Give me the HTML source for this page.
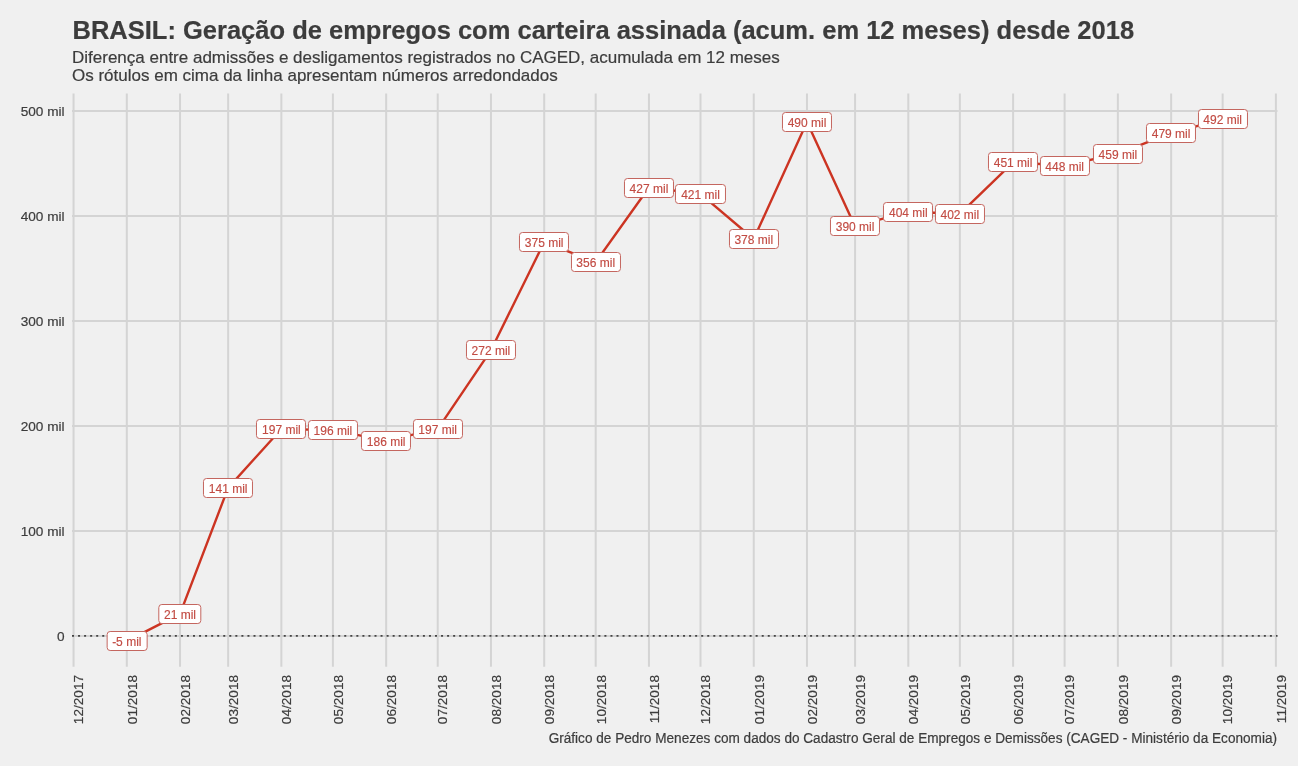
<!DOCTYPE html>
<html><head><meta charset="utf-8"><style>
html,body{margin:0;padding:0;}
body{width:1298px;height:766px;background:#f0f0f0;position:relative;overflow:hidden;}
#w{position:absolute;left:0;top:0;width:1298px;height:766px;will-change:transform;-webkit-text-stroke:0.2px #3c3c3c;font-family:"Liberation Sans",sans-serif;color:#3c3c3c;}
.t{position:absolute;left:72.5px;top:15.2px;font-size:25.5px;font-weight:bold;white-space:nowrap;line-height:30px;}
.s{position:absolute;left:72px;top:48.8px;font-size:17px;white-space:nowrap;line-height:18.5px;}
.c{position:absolute;right:21px;top:730.5px;font-size:13.6px;white-space:nowrap;line-height:16px;transform:scaleY(1.08);transform-origin:0 12.7px;}
svg{position:absolute;left:0;top:0;}
.ax{font-family:"Liberation Sans",sans-serif;font-size:13.6px;fill:#3c3c3c;stroke:#3c3c3c;stroke-width:0.2px;}
.lb{position:absolute;transform:translate(-50%,-50%);background:#fff;border:1px solid #c4665f;border-radius:3.5px;color:#c24b43;-webkit-text-stroke:0.15px #c24b43;font-size:12px;line-height:15px;padding:3px 4.7px 0 4.7px;white-space:nowrap;}
</style></head><body><div id="w">
<div class="t">BRASIL: Geração de empregos com carteira assinada (acum. em 12 meses) desde 2018</div>
<div class="s">Diferença entre admissões e desligamentos registrados no CAGED, acumulada em 12 meses<br>Os rótulos em cima da linha apresentam números arredondados</div>
<svg width="1298" height="766" viewBox="0 0 1298 766">
<line x1="72" x2="1277.5" y1="635.90" y2="635.90" stroke="#d4d4d4" stroke-width="2"/>
<line x1="72" x2="1277.5" y1="530.90" y2="530.90" stroke="#d4d4d4" stroke-width="2"/>
<line x1="72" x2="1277.5" y1="425.90" y2="425.90" stroke="#d4d4d4" stroke-width="2"/>
<line x1="72" x2="1277.5" y1="320.90" y2="320.90" stroke="#d4d4d4" stroke-width="2"/>
<line x1="72" x2="1277.5" y1="215.90" y2="215.90" stroke="#d4d4d4" stroke-width="2"/>
<line x1="72" x2="1277.5" y1="110.90" y2="110.90" stroke="#d4d4d4" stroke-width="2"/>
<line x1="73.55" x2="73.55" y1="93.5" y2="666.7" stroke="#d4d4d4" stroke-width="2"/>
<line x1="126.80" x2="126.80" y1="93.5" y2="666.7" stroke="#d4d4d4" stroke-width="2"/>
<line x1="180.04" x2="180.04" y1="93.5" y2="666.7" stroke="#d4d4d4" stroke-width="2"/>
<line x1="228.14" x2="228.14" y1="93.5" y2="666.7" stroke="#d4d4d4" stroke-width="2"/>
<line x1="281.38" x2="281.38" y1="93.5" y2="666.7" stroke="#d4d4d4" stroke-width="2"/>
<line x1="332.91" x2="332.91" y1="93.5" y2="666.7" stroke="#d4d4d4" stroke-width="2"/>
<line x1="386.16" x2="386.16" y1="93.5" y2="666.7" stroke="#d4d4d4" stroke-width="2"/>
<line x1="437.69" x2="437.69" y1="93.5" y2="666.7" stroke="#d4d4d4" stroke-width="2"/>
<line x1="490.94" x2="490.94" y1="93.5" y2="666.7" stroke="#d4d4d4" stroke-width="2"/>
<line x1="544.18" x2="544.18" y1="93.5" y2="666.7" stroke="#d4d4d4" stroke-width="2"/>
<line x1="595.71" x2="595.71" y1="93.5" y2="666.7" stroke="#d4d4d4" stroke-width="2"/>
<line x1="648.96" x2="648.96" y1="93.5" y2="666.7" stroke="#d4d4d4" stroke-width="2"/>
<line x1="700.49" x2="700.49" y1="93.5" y2="666.7" stroke="#d4d4d4" stroke-width="2"/>
<line x1="753.74" x2="753.74" y1="93.5" y2="666.7" stroke="#d4d4d4" stroke-width="2"/>
<line x1="806.98" x2="806.98" y1="93.5" y2="666.7" stroke="#d4d4d4" stroke-width="2"/>
<line x1="855.08" x2="855.08" y1="93.5" y2="666.7" stroke="#d4d4d4" stroke-width="2"/>
<line x1="908.32" x2="908.32" y1="93.5" y2="666.7" stroke="#d4d4d4" stroke-width="2"/>
<line x1="959.85" x2="959.85" y1="93.5" y2="666.7" stroke="#d4d4d4" stroke-width="2"/>
<line x1="1013.10" x2="1013.10" y1="93.5" y2="666.7" stroke="#d4d4d4" stroke-width="2"/>
<line x1="1064.63" x2="1064.63" y1="93.5" y2="666.7" stroke="#d4d4d4" stroke-width="2"/>
<line x1="1117.88" x2="1117.88" y1="93.5" y2="666.7" stroke="#d4d4d4" stroke-width="2"/>
<line x1="1171.12" x2="1171.12" y1="93.5" y2="666.7" stroke="#d4d4d4" stroke-width="2"/>
<line x1="1222.65" x2="1222.65" y1="93.5" y2="666.7" stroke="#d4d4d4" stroke-width="2"/>
<line x1="1275.90" x2="1275.90" y1="93.5" y2="666.7" stroke="#d4d4d4" stroke-width="2"/>
<line x1="72" x2="1277.5" y1="635.9" y2="635.9" stroke="#444" stroke-width="1.9" stroke-dasharray="2 4.05"/>
<text x="64.5" y="640.70" text-anchor="end" class="ax">0</text>
<text x="64.5" y="535.70" text-anchor="end" class="ax">100 mil</text>
<text x="64.5" y="430.70" text-anchor="end" class="ax">200 mil</text>
<text x="64.5" y="325.70" text-anchor="end" class="ax">300 mil</text>
<text x="64.5" y="220.70" text-anchor="end" class="ax">400 mil</text>
<text x="64.5" y="115.70" text-anchor="end" class="ax">500 mil</text>
<text transform="translate(83.35,675) rotate(-90)" text-anchor="end" class="ax">12/2017</text>
<text transform="translate(136.60,675) rotate(-90)" text-anchor="end" class="ax">01/2018</text>
<text transform="translate(189.84,675) rotate(-90)" text-anchor="end" class="ax">02/2018</text>
<text transform="translate(237.94,675) rotate(-90)" text-anchor="end" class="ax">03/2018</text>
<text transform="translate(291.18,675) rotate(-90)" text-anchor="end" class="ax">04/2018</text>
<text transform="translate(342.71,675) rotate(-90)" text-anchor="end" class="ax">05/2018</text>
<text transform="translate(395.96,675) rotate(-90)" text-anchor="end" class="ax">06/2018</text>
<text transform="translate(447.49,675) rotate(-90)" text-anchor="end" class="ax">07/2018</text>
<text transform="translate(500.74,675) rotate(-90)" text-anchor="end" class="ax">08/2018</text>
<text transform="translate(553.98,675) rotate(-90)" text-anchor="end" class="ax">09/2018</text>
<text transform="translate(605.51,675) rotate(-90)" text-anchor="end" class="ax">10/2018</text>
<text transform="translate(658.76,675) rotate(-90)" text-anchor="end" class="ax">11/2018</text>
<text transform="translate(710.29,675) rotate(-90)" text-anchor="end" class="ax">12/2018</text>
<text transform="translate(763.54,675) rotate(-90)" text-anchor="end" class="ax">01/2019</text>
<text transform="translate(816.78,675) rotate(-90)" text-anchor="end" class="ax">02/2019</text>
<text transform="translate(864.88,675) rotate(-90)" text-anchor="end" class="ax">03/2019</text>
<text transform="translate(918.12,675) rotate(-90)" text-anchor="end" class="ax">04/2019</text>
<text transform="translate(969.65,675) rotate(-90)" text-anchor="end" class="ax">05/2019</text>
<text transform="translate(1022.90,675) rotate(-90)" text-anchor="end" class="ax">06/2019</text>
<text transform="translate(1074.43,675) rotate(-90)" text-anchor="end" class="ax">07/2019</text>
<text transform="translate(1127.68,675) rotate(-90)" text-anchor="end" class="ax">08/2019</text>
<text transform="translate(1180.92,675) rotate(-90)" text-anchor="end" class="ax">09/2019</text>
<text transform="translate(1232.45,675) rotate(-90)" text-anchor="end" class="ax">10/2019</text>
<text transform="translate(1285.70,675) rotate(-90)" text-anchor="end" class="ax">11/2019</text>
<path d="M126.80,641.15 L180.04,613.85 L228.14,487.85 L281.38,429.05 L332.91,430.10 L386.16,440.60 L437.69,429.05 L490.94,350.30 L544.18,242.15 L595.71,262.10 L648.96,187.55 L700.49,193.85 L753.74,239.00 L806.98,122.03 L855.08,226.40 L908.32,211.70 L959.85,213.80 L1013.10,162.35 L1064.63,165.50 L1117.88,153.95 L1171.12,132.95 L1222.65,119.30" fill="none" stroke="#cc3422" stroke-width="2.4" stroke-linejoin="round"/>
</svg>
<div class="lb" style="left:126.80px;top:641.15px">-5 mil</div>
<div class="lb" style="left:180.04px;top:613.85px">21 mil</div>
<div class="lb" style="left:228.14px;top:487.85px">141 mil</div>
<div class="lb" style="left:281.38px;top:429.05px">197 mil</div>
<div class="lb" style="left:332.91px;top:430.10px">196 mil</div>
<div class="lb" style="left:386.16px;top:440.60px">186 mil</div>
<div class="lb" style="left:437.69px;top:429.05px">197 mil</div>
<div class="lb" style="left:490.94px;top:350.30px">272 mil</div>
<div class="lb" style="left:544.18px;top:242.15px">375 mil</div>
<div class="lb" style="left:595.71px;top:262.10px">356 mil</div>
<div class="lb" style="left:648.96px;top:187.55px">427 mil</div>
<div class="lb" style="left:700.49px;top:193.85px">421 mil</div>
<div class="lb" style="left:753.74px;top:239.00px">378 mil</div>
<div class="lb" style="left:806.98px;top:122.03px">490 mil</div>
<div class="lb" style="left:855.08px;top:226.40px">390 mil</div>
<div class="lb" style="left:908.32px;top:211.70px">404 mil</div>
<div class="lb" style="left:959.85px;top:213.80px">402 mil</div>
<div class="lb" style="left:1013.10px;top:162.35px">451 mil</div>
<div class="lb" style="left:1064.63px;top:165.50px">448 mil</div>
<div class="lb" style="left:1117.88px;top:153.95px">459 mil</div>
<div class="lb" style="left:1171.12px;top:132.95px">479 mil</div>
<div class="lb" style="left:1222.65px;top:119.30px">492 mil</div>
<div class="c">Gráfico de Pedro Menezes com dados do Cadastro Geral de Empregos e Demissões (CAGED - Ministério da Economia)</div>
</div></body></html>
